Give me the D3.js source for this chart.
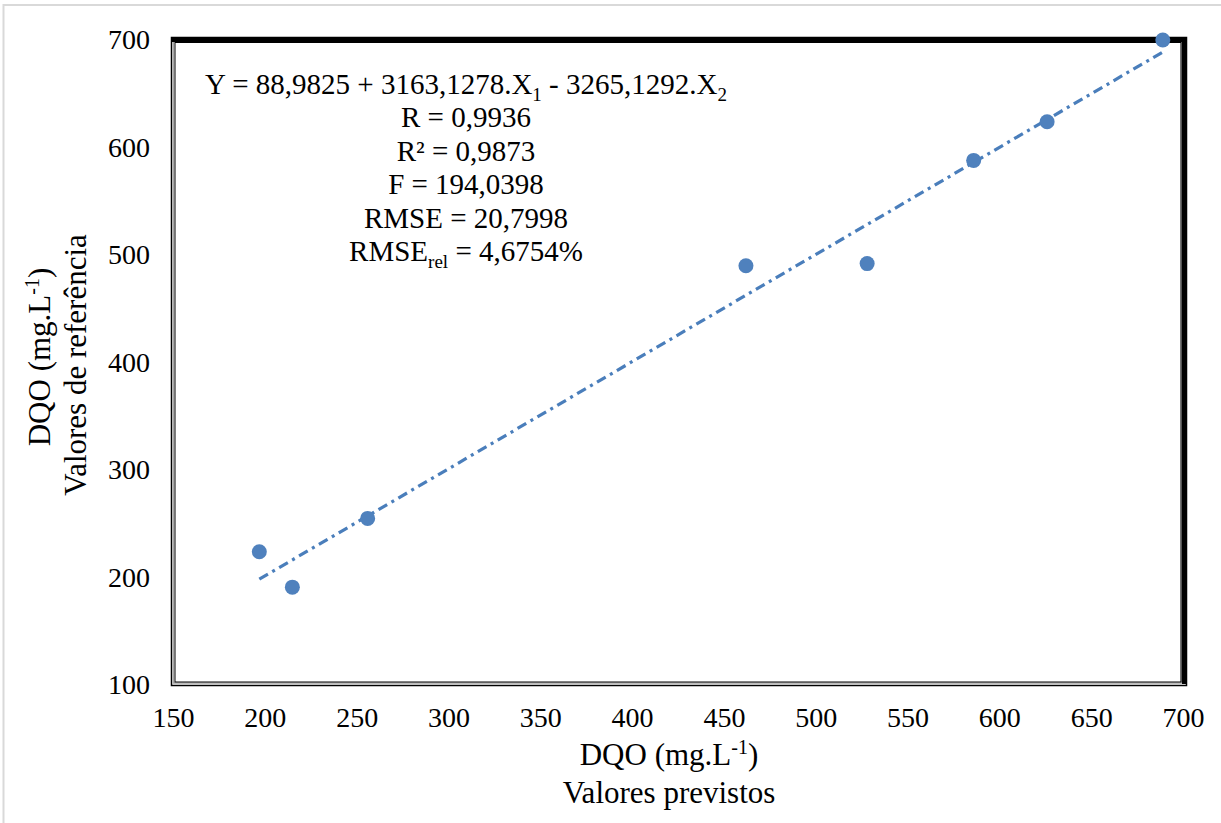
<!DOCTYPE html>
<html><head><meta charset="utf-8">
<script src="https://cdn.jsdelivr.net/npm/d3@7"></script>
<style>body{margin:0;background:#fff}svg{display:block}text{font-family:"Liberation Serif","Times New Roman",serif;fill:#000}</style>
</head><body>
<script>
const predicted = [197, 215, 256, 462, 528, 586, 626, 689];
const reference = [224, 191, 255, 490, 492, 588, 624, 700];
const xTicks = [150,200,250,300,350,400,450,500,550,600,650,700];
const yTicks = [100,200,300,400,500,600,700];
const statLines = ["R = 0,9936","R² = 0,9873","F = 194,0398","RMSE = 20,7998"];

const W=1221,H=823;
const svg=d3.select("body").append("svg").attr("width",W).attr("height",H);
svg.append("path").attr("d","M3.5,823 V5 H1221").attr("fill","none").attr("stroke","#d9d9d9").attr("stroke-width",2);

const x=d3.scaleLinear().domain([150,700]).range([173,1183]);
const y=d3.scaleLinear().domain([100,700]).range([685,40]);

// plot frame
const L=171,T=37,R=1187,B=686;
svg.append("rect").attr("x",L+0.5).attr("y",T+0.5).attr("width",R-L-1).attr("height",B-T-1).attr("fill","none").attr("stroke","#000").attr("stroke-width",1.5);
svg.append("rect").attr("x",L+2.5).attr("y",T+3).attr("width",R-L-8).attr("height",B-T-6).attr("fill","none").attr("stroke","#a6a6a6").attr("stroke-width",1.5);
svg.append("rect").attr("x",L+4).attr("y",T+5.5).attr("width",R-L-10).attr("height",B-T-9.5).attr("fill","none").attr("stroke","#000").attr("stroke-width",1);
svg.append("rect").attr("x",L).attr("y",T).attr("width",R-L).attr("height",5).attr("fill","#000");
svg.append("rect").attr("x",R-5).attr("y",T).attr("width",5).attr("height",B-T-2).attr("fill","#000");

// tick labels
const TK=28;
const xa=svg.append("g").attr("transform",`translate(0,${B})`).call(d3.axisBottom(x).tickValues(xTicks).tickSize(0).tickPadding(21));
xa.select(".domain").remove();
xa.selectAll("text").attr("font-size",TK).style("font-family","Liberation Serif");
const ya=svg.append("g").attr("transform",`translate(${L},0)`).call(d3.axisLeft(y).tickValues(yTicks).tickSize(0).tickPadding(21));
ya.select(".domain").remove();
ya.selectAll("text").attr("font-size",TK).style("font-family","Liberation Serif");

// regression trendline
const n=predicted.length, mx=d3.mean(predicted), my=d3.mean(reference);
let sxy=0,sxx=0; for(let i=0;i<n;i++){sxy+=(predicted[i]-mx)*(reference[i]-my);sxx+=(predicted[i]-mx)**2;}
const b=sxy/sxx,a=my-b*mx;
const x0=d3.min(predicted),x1=d3.max(predicted);
svg.append("line").attr("x1",x(x0)).attr("y1",y(a+b*x0)).attr("x2",x(x1)).attr("y2",y(a+b*x1))
  .attr("stroke","#4A7EBB").attr("stroke-width",3.2).attr("stroke-dasharray","10 5 3 5");

// points
svg.append("g").selectAll("circle").data(predicted).join("circle")
  .attr("cx",(d)=>x(d)).attr("cy",(d,i)=>y(reference[i])).attr("r",7.5).attr("fill","#4F81BD");

function tx(xc,yc,fs,rot){return svg.append("text").attr("transform",`translate(${xc},${yc})${rot?" rotate(-90)":""}`)
  .attr("text-anchor","middle").attr("font-size",fs);}

const cx=466, AF=29;
const t1=tx(cx,94,AF);
t1.append("tspan").text("Y = 88,9825 + 3163,1278.X");
t1.append("tspan").text("1").attr("font-size",19).attr("dy",7);
t1.append("tspan").text(" - 3265,1292.X").attr("dy",-7);
t1.append("tspan").text("2").attr("font-size",19).attr("dy",7);
statLines.forEach((s,i)=>{ tx(cx,127+i*33.5,AF).text(s); });
const t6=tx(cx,261,AF);
t6.append("tspan").text("RMSE");
t6.append("tspan").text("rel").attr("font-size",19).attr("dy",7);
t6.append("tspan").text(" = 4,6754%").attr("dy",-7);

// x axis title
const TF=31;
const xt=tx(669,765,TF);
xt.append("tspan").text("DQO (mg.L");
xt.append("tspan").text("-1").attr("font-size",20).attr("dy",-11);
xt.append("tspan").text(")").attr("dy",11);
tx(669,803,TF).text("Valores previstos");

// y axis title
const yt=tx(50,357,TF,true);
yt.append("tspan").text("DQO (mg.L");
yt.append("tspan").text("-1").attr("font-size",20).attr("dy",-11);
yt.append("tspan").text(")").attr("dy",11);
tx(86,365,TF,true).text("Valores de referência");
</script>
</body></html>
